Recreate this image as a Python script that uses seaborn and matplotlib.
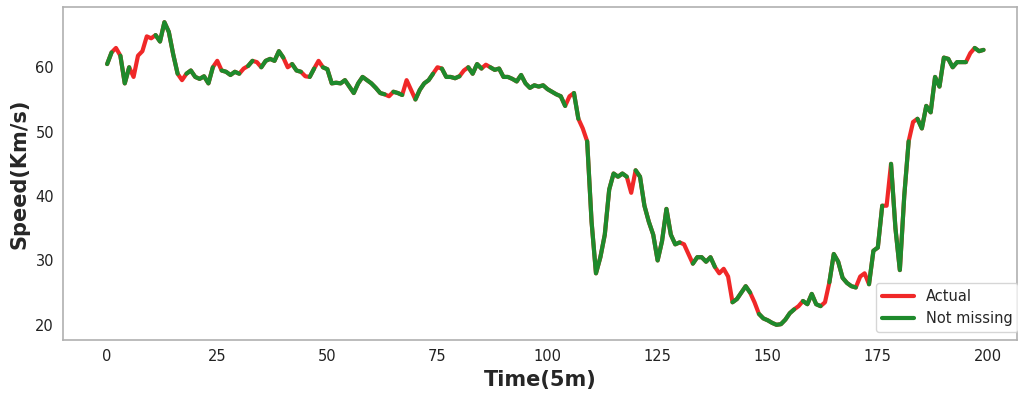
import numpy as np
import pandas as pd
import matplotlib
matplotlib.use("Agg")
import matplotlib.pyplot as plt
import seaborn as sns

# speed readings, one every 5 minutes
speed = [
    60.5, 62.3, 63.0, 61.8, 57.5, 60.0, 58.5, 61.8, 62.5, 64.8,
    64.5, 65.0, 64.0, 67.0, 65.5, 62.0, 59.0, 58.0, 59.0, 59.5,
    58.5, 58.2, 58.6, 57.5, 60.0, 61.0, 59.5, 59.3, 58.8, 59.3,
    59.0, 59.8, 60.2, 61.0, 60.8, 60.0, 61.0, 61.3, 61.0, 62.5,
    61.5, 60.0, 60.5, 59.5, 59.3, 58.6, 58.5, 59.8, 61.0, 60.0,
    59.7, 57.5, 57.6, 57.5, 58.0, 57.0, 56.0, 57.5, 58.5, 58.0,
    57.5, 56.8, 56.0, 55.8, 55.5, 56.2, 56.0, 55.7, 58.0, 56.5,
    55.0, 56.5, 57.5, 58.0, 59.0, 60.0, 59.8, 58.5, 58.5, 58.3,
    58.6, 59.5, 60.0, 59.0, 60.5, 59.8, 60.4, 60.0, 59.6, 59.8,
    58.5, 58.5, 58.2, 57.8, 58.8, 57.5, 56.8, 57.2, 57.0, 57.2,
    56.6, 56.2, 55.8, 55.5, 54.0, 55.5, 56.0, 52.0, 50.5, 48.5,
    36.0, 28.0, 30.5, 34.0, 41.0, 43.5, 43.0, 43.5, 43.0, 40.5,
    44.0, 43.0, 38.5, 36.0, 34.0, 30.0, 33.0, 38.0, 34.0, 32.5,
    32.8, 32.5, 31.0, 29.5, 30.5, 30.5, 29.8, 30.5, 29.0, 28.0,
    28.7, 27.5, 23.5, 24.0, 25.0, 26.0, 25.0, 23.5, 21.7, 21.0,
    20.7, 20.3, 20.0, 20.1, 20.8, 21.8, 22.4, 22.9, 23.7, 23.2,
    24.8, 23.2, 22.9, 23.5, 26.6, 31.0, 29.8, 27.3, 26.5, 26.0,
    25.8, 27.5, 28.0, 26.3, 31.5, 32.0, 38.5, 38.5, 45.0, 35.0,
    28.5, 40.0, 48.5, 51.5, 52.0, 50.5, 54.0, 53.0, 58.5, 57.0,
    61.5, 61.3, 60.0, 60.8, 60.8, 60.8, 62.2, 63.0, 62.5, 62.7,
]

# time steps where the observation is missing
missing_idx = [2, 6, 7, 8, 9, 10, 17, 25, 31, 34, 41, 45, 48, 64, 68, 69,
               75, 81, 86, 105, 108, 119, 131, 132, 139, 140, 141,
               147, 157, 163, 171, 172, 177, 183, 196]

time = np.arange(len(speed))
df = pd.DataFrame({"time": time, "actual": speed})
df["observed"] = df["actual"]
df.loc[missing_idx, "observed"] = np.nan

sns.set_style("white")

fig = plt.figure(figsize=(10.18, 3.93), dpi=100)
ax = fig.add_axes([0.062, 0.135, 0.937, 0.847])

sns.lineplot(data=df, x="time", y="actual", color="#f02828", lw=3,
             label="Actual", ax=ax)
# observed series drawn with plain matplotlib so NaNs leave gaps
ax.plot(df["time"], df["observed"], color="#1e8a2c", lw=3, label="Not missing")

ax.set_xlim(-10, 206.6)
ax.set_ylim(17.65, 69.35)
ax.set_xticks(np.arange(0, 201, 25))
ax.set_yticks(np.arange(20, 61, 10))
ax.tick_params(labelsize=10.5, colors="#222222", length=3)

ax.set_xlabel("Time(5m)", fontsize=15, fontweight="bold")
ax.set_ylabel("Speed(Km/s)", fontsize=15, fontweight="bold")

for s in ax.spines.values():
    s.set_color("#b0b0b0")
    s.set_linewidth(1.2)

ax.legend(loc="lower right", bbox_to_anchor=(1.006, 0.01), fontsize=10.5,
          frameon=True, handlelength=2.2, borderaxespad=0.3)

fig.savefig("out.png", dpi=100)
